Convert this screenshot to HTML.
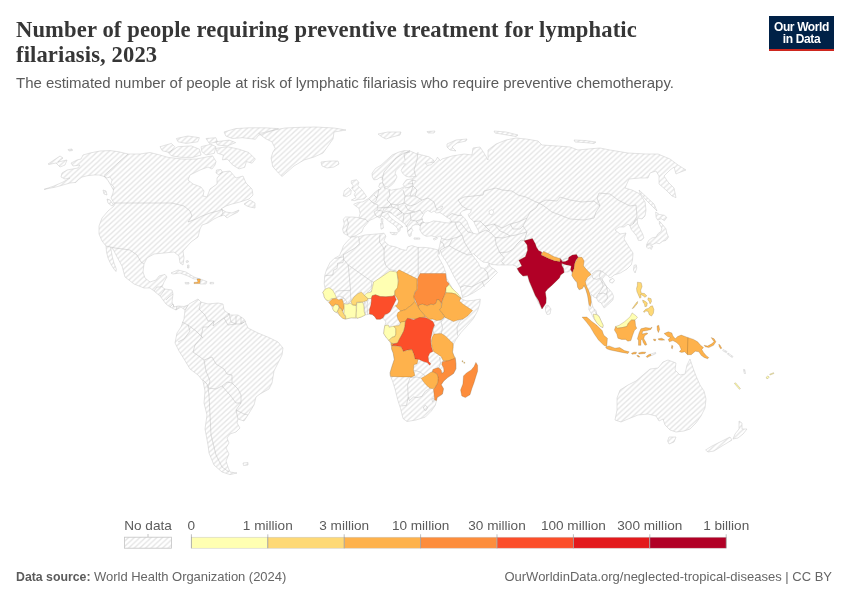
<!DOCTYPE html>
<html lang="en"><head><meta charset="utf-8"><title>Number of people requiring preventive treatment for lymphatic filariasis, 2023</title>
<style>
html,body{margin:0;padding:0;background:#fff}
body{width:850px;height:600px;position:relative;overflow:hidden;font-family:"Liberation Sans",sans-serif}
#title{position:absolute;left:16px;top:17px;margin:0;font-family:"Liberation Serif",serif;font-weight:700;font-size:22.6px;line-height:25.2px;color:#363636;letter-spacing:0.12px;white-space:nowrap}
#subtitle{position:absolute;left:16px;top:73.9px;margin:0;font-size:15px;line-height:18px;color:#5b5b5b;white-space:nowrap;letter-spacing:-0.03px}
#logo{position:absolute;left:769px;top:16px;width:65px;height:33.2px;background:#002147;border-bottom:2.7px solid #ce261e;color:#fff;text-align:center;font-weight:700;font-size:12px;line-height:12px;letter-spacing:-0.37px}
#logo span{display:block}
#logo span:first-child{padding-top:4.6px}
#src{position:absolute;left:16px;top:568.5px;font-size:13px;line-height:16px;color:#666;white-space:nowrap;letter-spacing:-0.04px}
#src b{font-weight:700;color:#5b5b5b;font-size:12.3px;letter-spacing:0}
#lic{position:absolute;right:18px;top:568.5px;font-size:13px;line-height:16px;color:#666;white-space:nowrap;letter-spacing:0px}
svg{position:absolute;left:0;top:0}
svg text{font-family:"Liberation Sans",sans-serif;font-size:13.6px;fill:#5b5b5b}
</style></head><body>
<h1 id="title">Number of people requiring preventive treatment for lymphatic<br>filariasis, 2023</h1>
<p id="subtitle">The estimated number of people at risk of lymphatic filariasis who require preventive chemotherapy.</p>
<div id="logo"><span>Our World</span><span>in Data</span></div>
<svg width="850" height="600" viewBox="0 0 850 600">
<defs>
<pattern id="hatch" patternUnits="userSpaceOnUse" width="5.66" height="5.25" x="0.6" y="0">
<path d="M-5.66,10.5 L11.32,-5.25" stroke="#e4e4e4" stroke-width="1.35"/>
<path d="M-11.32,10.5 L5.66,-5.25" stroke="#e4e4e4" stroke-width="1.35"/>
<path d="M0,10.5 L16.98,-5.25" stroke="#e4e4e4" stroke-width="1.35"/>
</pattern>
</defs>
<g id="map" stroke-linejoin="round">
<path d="M128.0,154.0 L118.0,151.6 L110.0,150.6 L100.0,151.0 L90.0,153.0 L83.0,155.0 L81.0,159.0 L77.0,160.0 L71.0,163.0 L73.0,166.0 L80.0,165.0 L78.0,168.0 L67.0,170.0 L62.0,173.0 L61.0,177.0 L65.0,179.0 L70.0,178.0 L63.0,182.0 L54.0,186.0 L44.0,189.4 L56.0,187.0 L70.0,183.0 L76.0,182.4 L78.0,180.0 L82.0,177.0 L88.0,175.6 L94.0,175.0 L99.0,175.0 L104.0,176.4 L107.0,178.0 L110.0,177.0 L112.0,180.0 L111.0,184.0 L114.0,187.0 L113.0,193.0 L111.0,198.0 L114.0,203.0 L114.0,206.0 L108.0,211.0 L102.0,218.0 L99.0,226.0 L99.0,234.0 L102.0,241.0 L106.0,246.0 L106.5,252.0 L108.0,258.0 L110.5,263.5 L113.5,268.5 L116.0,271.5 L116.3,269.0 L114.0,263.0 L112.3,257.0 L111.3,251.0 L110.5,247.5 L113.0,249.0 L116.5,256.0 L122.0,266.0 L125.0,277.0 L134.0,284.0 L144.0,288.0 L150.0,288.0 L154.0,291.0 L160.0,296.0 L166.0,304.0 L170.0,307.0 L176.0,310.0 L181.0,307.0 L185.0,310.0 L188.0,305.0 L184.0,306.5 L178.0,306.0 L174.0,307.0 L172.0,302.0 L173.0,294.0 L172.0,290.0 L165.0,289.0 L162.0,287.0 L164.0,282.0 L167.0,277.0 L165.0,274.4 L159.0,276.0 L156.0,280.0 L150.0,282.0 L145.0,278.0 L143.0,272.0 L144.0,264.0 L147.0,258.0 L154.0,254.0 L164.0,253.0 L174.0,252.0 L179.0,256.0 L180.0,263.0 L183.0,265.0 L184.0,258.0 L183.0,251.0 L191.0,242.0 L198.0,237.0 L200.0,229.0 L202.0,225.0 L208.0,223.0 L214.0,219.0 L218.0,217.0 L224.0,215.0 L227.0,218.0 L230.0,216.0 L238.0,212.0 L239.0,210.0 L232.0,213.0 L226.0,212.0 L221.0,209.0 L226.0,206.0 L232.0,204.0 L240.0,202.0 L249.0,199.0 L253.0,195.0 L252.0,189.0 L246.0,183.0 L243.0,176.0 L236.0,178.0 L230.0,171.0 L222.0,172.0 L217.0,178.0 L217.0,184.0 L210.0,189.0 L207.0,197.0 L203.0,196.0 L204.0,191.0 L201.0,187.0 L193.0,184.0 L188.0,180.0 L190.0,175.0 L200.0,170.0 L208.0,167.0 L212.0,169.0 L215.0,165.0 L216.0,161.5 L212.6,155.8 L204.4,157.4 L196.1,159.1 L183.0,159.1 L168.1,157.4 L159.9,155.0 L150.0,152.5 L140.0,154.0Z M48.0,164.0 L60.0,156.0 L63.0,158.0 L58.0,162.0 L67.0,160.0 L65.0,165.0 L60.0,167.0 L56.0,163.0 L49.0,164.4Z M68.0,149.5 L72.0,149.0 L72.5,150.5 L69.0,151.0Z M103.0,190.0 L106.0,191.0 L107.0,195.0 L104.0,194.0Z M107.0,199.0 L110.0,200.0 L113.5,205.0 L112.0,206.0 L108.0,203.0Z M244.0,204.0 L250.0,200.0 L255.0,203.0 L255.0,208.0 L250.0,207.0 L247.0,206.0Z M168.1,152.5 L178.0,146.7 L191.2,145.9 L199.4,149.2 L201.1,155.0 L192.8,157.4 L181.3,157.4 L171.4,155.8Z M206.0,138.5 L215.9,137.7 L217.5,141.8 L209.3,143.4Z M201.1,146.7 L211.0,144.2 L215.9,146.7 L214.3,153.3 L206.0,155.0 L201.9,151.7Z M160.0,146.7 L171.4,143.4 L174.7,146.7 L169.8,152.5 L162.4,150.8Z M176.4,138.5 L187.9,136.0 L199.4,137.7 L197.8,141.8 L186.2,143.4 L178.0,141.8Z M215.9,141.8 L229.1,140.1 L235.7,142.6 L227.4,145.9 L217.5,145.1Z M224.1,131.9 L235.7,128.6 L248.8,127.8 L265.3,127.8 L278.5,128.6 L268.6,131.9 L258.7,135.2 L255.4,139.3 L242.3,137.7 L232.4,138.5 L225.8,136.0Z M215.9,148.4 L227.4,146.7 L239.0,149.2 L248.8,152.5 L255.4,159.1 L252.1,163.2 L246.4,161.5 L244.7,167.3 L239.0,168.9 L232.4,164.8 L227.4,159.1 L222.5,159.9 L223.3,155.0 L217.5,153.3Z M216.5,170.0 L221.0,169.5 L222.5,172.5 L218.5,174.5 L216.0,173.0Z M258.7,133.5 L265.3,138.5 L271.9,141.8 L275.2,148.4 L272.7,152.5 L271.1,158.2 L272.7,166.5 L278.5,173.1 L282.0,176.5 L286.0,173.0 L294.0,166.0 L304.0,160.0 L314.0,157.0 L323.0,153.0 L328.0,146.0 L333.0,139.0 L334.0,132.0 L346.0,130.0 L334.0,128.0 L316.0,127.0 L300.0,127.3 L285.0,128.0 L272.0,130.5 L264.0,132.5Z M321.0,162.0 L330.0,161.0 L338.0,161.0 L339.0,164.0 L334.0,167.0 L327.0,168.0 L322.0,166.0Z M378.0,134.0 L388.0,132.0 L401.0,132.0 L400.0,135.0 L392.0,137.0 L386.0,139.0 L382.0,137.0Z M427.0,131.5 L435.0,131.0 L434.0,133.0 L428.0,133.0Z M447.0,144.0 L456.0,140.0 L467.0,139.0 L466.0,141.0 L457.0,143.0 L452.0,147.0 L456.0,151.0 L450.0,150.0 L447.0,147.0Z M494.0,131.0 L506.0,132.0 L518.0,135.0 L516.0,136.5 L504.0,134.5 L495.0,133.0Z M574.0,140.0 L585.0,140.5 L596.0,142.0 L594.0,143.5 L584.0,142.5 L575.0,142.0Z M171.0,273.0 L178.0,270.0 L186.0,272.0 L194.0,277.0 L200.0,279.0 L194.0,279.0 L188.0,276.0 L180.0,273.0 L173.0,274.0Z M200.4,279.0 L207.0,281.6 L206.0,284.0 L200.0,284.0Z M185.0,282.4 L189.0,282.6 L189.0,284.0 L185.5,284.0Z M210.0,282.4 L213.6,282.4 L213.6,283.8 L210.0,283.8Z M186.0,261.0 L188.0,260.5 L188.5,262.0 L186.5,262.5Z M187.5,265.0 L189.0,265.0 L189.0,268.0 L187.5,268.0Z M185.0,310.0 L189.0,304.0 L198.0,299.0 L201.0,302.0 L208.0,304.0 L218.0,303.0 L223.0,304.0 L224.0,310.0 L230.0,315.0 L238.0,315.0 L244.0,319.0 L248.0,328.0 L258.0,333.0 L270.0,338.0 L278.0,342.0 L283.0,348.0 L282.0,355.0 L278.0,363.0 L274.0,371.0 L272.0,383.0 L269.0,389.0 L260.0,394.0 L256.0,397.0 L254.0,405.0 L248.0,415.0 L244.0,421.0 L238.0,419.0 L237.0,423.0 L240.0,428.0 L236.0,432.0 L230.0,434.0 L227.0,438.0 L229.0,443.0 L226.0,448.0 L229.0,454.0 L226.0,461.0 L228.0,467.0 L230.0,472.0 L237.0,473.0 L230.0,474.6 L222.0,472.0 L214.0,465.0 L209.0,453.0 L208.0,445.0 L205.0,429.0 L207.0,415.0 L204.0,403.0 L205.0,391.0 L203.0,381.0 L198.0,375.0 L190.0,369.0 L184.0,359.0 L179.0,351.0 L175.0,343.0 L177.0,333.0 L181.0,327.0 L184.0,319.0Z M343.7,233.3 L347.8,235.6 L350.2,237.4 L356.0,235.6 L361.8,232.1 L363.6,227.5 L367.7,222.8 L369.4,220.5 L373.5,218.7 L377.6,216.4 L381.6,215.8 L385.1,218.1 L389.2,221.6 L394.5,225.1 L397.5,228.5 L398.3,232.0 L399.8,231.0 L400.5,227.5 L403.0,227.0 L400.3,224.6 L395.6,221.6 L391.0,218.1 L387.5,213.5 L389.8,212.3 L394.5,215.8 L400.3,220.5 L405.0,224.0 L407.3,227.5 L407.5,231.5 L408.0,233.5 L409.2,236.5 L411.0,236.0 L411.4,232.0 L412.8,230.5 L411.5,228.0 L412.4,225.7 L415.6,224.6 L418.8,224.6 L421.5,222.5 L420.4,225.7 L419.8,229.9 L422.5,234.2 L426.2,236.3 L431.5,235.8 L436.8,237.4 L440.5,235.8 L441.5,238.4 L440.5,241.6 L439.4,246.9 L438.4,250.1 L439.1,254.4 L440.3,250.3 L442.1,255.6 L446.2,261.5 L450.3,269.1 L453.8,276.2 L457.4,282.1 L460.3,287.4 L461.5,292.6 L462.6,297.4 L466.8,296.2 L473.8,292.6 L480.9,287.9 L487.9,282.1 L493.8,276.2 L497.4,272.6 L495.0,269.7 L490.3,266.8 L489.1,263.2 L487.4,266.8 L484.4,268.5 L480.3,267.4 L478.5,263.2 L475.0,258.5 L471.5,254.4 L473.8,253.8 L478.5,258.5 L483.2,262.1 L487.9,262.6 L491.5,264.4 L497.4,265.0 L504.4,265.0 L512.6,265.0 L516.0,266.0 L517.0,268.0 L519.0,272.0 L523.0,276.0 L528.0,276.0 L529.0,281.0 L532.0,288.0 L535.0,295.0 L538.0,302.0 L542.0,309.0 L546.0,303.0 L546.0,298.0 L545.0,292.0 L548.0,289.0 L551.0,286.0 L556.0,281.0 L559.0,278.0 L561.0,275.0 L564.0,272.0 L568.0,272.0 L571.0,270.0 L572.0,273.0 L572.0,275.0 L574.0,279.0 L577.0,283.0 L578.0,287.0 L579.0,290.0 L582.0,288.0 L584.0,285.0 L586.0,290.0 L588.0,296.0 L589.0,302.0 L589.0,306.5 L588.8,309.5 L591.3,313.5 L594.0,319.0 L597.0,323.0 L600.0,326.0 L603.0,327.6 L603.0,325.0 L601.0,321.0 L599.0,316.0 L597.0,314.5 L595.0,311.5 L594.0,309.0 L592.5,306.0 L591.5,302.0 L591.0,298.3 L591.3,294.5 L592.3,295.1 L593.4,296.7 L596.7,298.3 L598.3,301.6 L601.0,302.7 L602.6,305.4 L604.3,308.1 L606.4,305.9 L609.7,303.2 L612.9,300.0 L613.5,296.2 L611.8,292.4 L608.6,288.6 L604.8,284.8 L602.1,281.5 L602.6,278.3 L605.9,274.5 L607.5,275.6 L610.0,278.0 L612.4,276.7 L614.0,275.0 L620.5,272.9 L627.0,269.0 L631.3,264.7 L632.5,260.0 L633.0,253.0 L629.0,247.0 L624.0,239.0 L626.0,233.0 L620.0,234.0 L615.0,230.0 L619.0,227.0 L624.0,227.0 L628.0,224.0 L630.0,226.0 L631.4,229.7 L634.3,233.0 L636.8,236.3 L638.4,240.4 L641.3,240.4 L643.8,237.9 L642.9,234.7 L640.5,229.7 L637.6,223.9 L637.2,219.0 L638.0,218.0 L642.0,219.0 L645.0,216.0 L646.0,210.0 L645.0,202.0 L640.0,194.0 L632.0,190.0 L625.0,188.0 L629.0,179.0 L640.0,178.0 L648.0,178.0 L650.0,173.0 L656.0,171.0 L659.0,176.0 L659.0,184.0 L666.0,190.0 L672.0,196.0 L676.0,197.6 L674.0,188.0 L668.0,182.0 L664.0,176.0 L670.0,170.0 L674.0,167.0 L676.0,174.0 L678.0,173.0 L686.0,170.0 L678.0,165.0 L670.0,159.0 L658.0,154.0 L646.0,154.0 L628.0,153.0 L610.0,150.0 L600.0,148.0 L588.0,149.0 L578.0,150.0 L570.0,147.0 L558.0,146.0 L542.0,145.0 L538.0,141.0 L526.0,139.0 L516.0,138.0 L506.0,140.0 L496.0,144.0 L488.0,150.0 L488.0,160.0 L484.0,153.0 L480.0,147.0 L473.0,148.0 L472.0,155.0 L464.0,154.0 L452.0,156.0 L442.0,159.0 L440.3,160.5 L437.5,157.2 L436.0,160.0 L431.0,164.8 L427.1,165.2 L425.2,163.4 L428.0,163.0 L432.0,162.5 L434.2,162.4 L433.7,160.1 L429.0,156.8 L421.5,154.9 L415.8,153.5 L410.2,151.1 L404.5,150.6 L398.9,152.1 L392.3,154.9 L386.6,160.1 L381.0,165.2 L375.4,168.5 L372.1,173.2 L372.3,177.0 L373.9,179.8 L377.0,179.5 L380.0,177.5 L382.9,177.9 L382.4,182.2 L383.5,185.0 L385.2,186.4 L388.5,187.4 L392.3,184.5 L394.2,182.2 L397.0,177.0 L395.1,173.2 L396.1,170.4 L399.8,166.6 L402.6,163.8 L405.5,163.8 L402.6,167.6 L401.2,170.4 L402.6,173.2 L405.5,176.1 L409.2,177.0 L414.9,176.5 L412.1,178.9 L406.4,179.8 L404.5,182.2 L403.1,184.5 L404.5,186.4 L402.6,187.4 L399.8,188.8 L396.1,189.2 L391.4,190.2 L388.5,189.2 L386.3,188.4 L384.0,186.7 L382.8,182.6 L379.9,183.2 L378.7,186.7 L381.1,189.0 L378.7,189.6 L375.2,191.9 L372.3,194.8 L368.8,198.3 L363.0,201.8 L358.3,202.4 L353.7,204.2 L355.4,205.9 L358.9,208.2 L360.1,213.5 L358.9,217.6 L352.5,217.0 L345.5,217.0 L343.2,219.3 L344.3,224.0 L342.6,229.2Z M350.0,238.5 L351.8,236.8 L358.8,236.8 L364.7,235.0 L371.8,234.4 L378.8,233.8 L384.1,233.2 L385.9,236.2 L384.1,240.3 L386.0,243.0 L389.4,245.6 L395.3,246.8 L402.4,249.7 L406.5,250.3 L407.6,246.8 L411.8,245.6 L417.6,247.4 L424.1,247.4 L429.4,247.9 L434.6,249.0 L438.4,250.1 L437.9,255.6 L440.3,260.3 L443.2,265.6 L445.8,272.6 L446.8,278.5 L449.7,283.8 L452.1,287.9 L456.2,293.2 L460.3,297.4 L461.5,299.1 L466.8,300.9 L473.8,300.3 L480.3,299.1 L479.8,304.0 L477.5,311.0 L473.5,318.5 L467.5,325.5 L461.0,332.5 L456.0,339.5 L453.5,344.0 L453.0,347.0 L452.5,352.0 L454.0,356.0 L455.3,358.2 L456.0,364.0 L456.0,369.0 L453.5,373.5 L447.6,377.6 L443.5,381.2 L441.2,384.7 L443.5,388.8 L442.4,394.1 L437.1,397.6 L436.5,400.6 L435.3,405.3 L431.2,411.2 L425.3,417.1 L416.0,420.0 L407.0,421.5 L403.0,418.5 L400.6,408.8 L397.6,399.4 L395.3,390.0 L392.4,380.6 L390.0,375.3 L390.1,372.7 L392.2,365.8 L394.3,359.5 L393.2,353.1 L391.6,348.9 L391.0,344.0 L389.0,340.4 L386.4,337.8 L383.7,333.5 L384.2,329.3 L384.8,325.6 L386.0,322.0 L383.0,318.0 L380.2,319.2 L376.5,319.2 L374.6,316.4 L372.2,314.5 L369.4,314.1 L365.2,315.0 L361.4,316.9 L357.2,318.3 L351.1,317.8 L345.9,319.0 L342.6,318.3 L339.8,315.5 L336.5,312.6 L334.1,311.2 L332.7,308.9 L331.3,305.6 L328.9,302.3 L326.1,299.9 L324.2,297.1 L323.8,294.8 L322.8,292.4 L325.2,289.1 L324.2,283.5 L324.7,275.6 L326.5,269.7 L330.0,262.6 L334.1,258.5 L339.4,255.6 L341.8,250.3 L343.5,245.6 L347.1,241.5Z M351.3,180.8 L356.6,179.7 L358.9,182.6 L357.7,185.5 L361.8,189.6 L364.7,193.7 L366.5,196.6 L364.2,198.9 L358.3,199.5 L354.2,200.7 L351.3,200.1 L356.0,197.7 L354.2,194.8 L355.4,192.5 L352.5,189.0 L353.1,185.5 L351.3,183.2Z M343.2,196.0 L344.3,190.7 L348.4,187.8 L351.3,190.2 L350.7,194.2 L346.7,196.6Z M380.5,223.4 L382.8,222.8 L383.4,228.1 L381.1,229.2Z M381.1,218.7 L382.8,218.7 L382.8,222.2 L381.4,222.2Z M389.8,232.3 L395.6,232.7 L397.5,232.6 L396.2,234.8 L392.1,234.5Z M414.0,237.9 L419.8,238.0 L419.8,239.2 L414.0,239.1Z M433.1,238.9 L436.8,237.6 L437.3,238.6 L434.6,240.0Z M639.0,190.0 L654.0,204.0 L657.0,211.0 L654.0,208.0 L646.0,200.0 L640.0,193.0Z M655.7,212.0 L659.4,214.5 L664.4,215.3 L666.8,217.4 L664.4,220.7 L661.1,218.6 L657.8,220.2 L656.1,217.4Z M659.4,221.1 L662.7,224.8 L666.0,228.9 L666.8,233.0 L668.5,237.1 L666.0,240.4 L662.7,241.2 L659.4,243.7 L656.1,242.9 L652.8,244.5 L649.5,243.7 L646.7,244.5 L648.7,240.4 L652.0,237.9 L656.1,237.1 L657.8,233.8 L661.1,231.4 L661.9,228.1 L659.4,223.9Z M646.7,244.8 L649.5,244.8 L652.8,246.2 L651.2,249.5 L649.5,247.8 L647.9,248.5 L646.5,247.0Z M634.0,265.3 L636.2,264.8 L636.8,268.0 L635.1,272.9 L633.5,270.2Z M609.7,279.9 L612.9,278.3 L614.5,280.5 L612.4,283.2 L609.7,282.1Z M545.5,306.0 L548.0,305.0 L551.0,309.0 L550.0,314.0 L547.0,314.5 L545.5,311.0Z M615.0,420.0 L617.0,410.0 L617.0,398.0 L620.0,390.0 L628.0,385.0 L636.0,381.0 L643.0,375.0 L650.0,369.0 L658.0,368.0 L663.0,362.0 L668.0,360.0 L676.0,363.0 L675.0,370.0 L680.0,375.0 L685.0,374.0 L687.0,365.0 L690.0,359.0 L693.0,368.0 L696.0,376.0 L700.0,385.0 L704.0,391.0 L706.0,399.0 L705.0,408.0 L701.0,416.0 L696.0,423.0 L690.0,429.0 L684.0,431.0 L676.0,432.0 L670.0,430.0 L665.0,425.0 L663.0,419.0 L659.0,421.0 L656.0,416.0 L648.0,414.0 L638.0,415.0 L628.0,419.0 L621.0,422.0Z M669.0,437.0 L676.0,437.0 L674.0,442.0 L669.0,444.0 L667.6,441.0Z M739.0,421.0 L742.0,423.0 L742.0,429.0 L747.0,429.0 L743.0,434.0 L738.0,438.0 L733.0,439.0 L735.0,434.0 L739.0,429.0Z M730.0,437.0 L732.0,440.0 L722.0,446.0 L714.0,451.0 L708.0,452.0 L705.6,450.0 L712.0,446.0 L722.0,441.0Z M650.3,354.3 L655.6,352.4 L655.8,353.6 L651.0,355.8Z M723.0,349.5 L727.0,351.5 L726.5,352.8 L722.8,350.8Z M728.0,353.0 L733.0,356.5 L732.3,357.6 L727.5,354.2Z M743.5,369.4 L744.8,369.6 L745.5,373.5 L744.3,373.5Z M243.0,463.0 L248.0,462.5 L248.0,465.0 L243.5,465.5Z" fill="url(#hatch)" stroke="#c9c9c9" stroke-width="0.5"/>
<path d="M421.9,217.8 L424.6,212.5 L427.8,210.4 L431.5,212.5 L434.1,210.9 L436.2,213.0 L439.9,212.5 L443.1,214.6 L446.8,217.2 L450.5,219.4 L451.6,222.0 L449.5,223.1 L444.2,222.5 L438.9,221.5 L433.6,220.9 L429.4,222.5 L425.6,223.1 L422.5,221.5Z M436.2,209.8 L438.9,207.7 L442.6,206.1 L442.1,208.2 L439.4,209.8Z M460.1,213.0 L462.7,210.9 L467.5,209.3 L471.2,209.8 L470.7,212.5 L468.0,214.6 L469.6,217.8 L473.8,221.5 L475.4,225.2 L478.1,229.9 L479.1,233.1 L477.0,234.2 L472.8,233.1 L470.7,229.9 L468.5,225.7 L467.0,221.5 L464.3,217.8 L461.6,215.6Z M489.0,211.0 L492.0,209.5 L494.0,212.0 L492.0,215.0 L489.5,214.0Z" fill="#fff" stroke="#c9c9c9" stroke-width="0.5"/>
<path d="M128.0,154.0 L104.0,175.5 M104.0,176.0 L108.0,180.5 L111.0,185.5 L113.5,190.0 M114.0,203.0 L150.0,203.0 L172.0,203.0 L184.0,206.0 L190.0,211.0 L192.0,216.0 L188.0,222.0 L196.0,219.0 L202.0,216.0 L210.0,213.0 L218.0,211.0 L222.0,209.0 L223.0,213.0 L221.0,216.0 M106.0,246.0 L115.0,248.0 L123.0,249.0 L130.0,250.0 L137.0,255.0 L141.0,262.0 L144.0,264.0 M154.0,291.0 L157.0,287.0 L160.0,287.0 L162.0,286.0 M160.0,296.0 L163.0,292.0 L165.0,289.0 M166.0,300.0 L169.0,297.0 L173.0,294.0 M170.0,307.0 L173.0,304.0 L174.0,307.0 M176.0,310.0 L177.0,306.0 M201.0,302.0 L199.0,309.0 L205.0,315.0 L208.0,321.0 L214.0,321.0 M214.0,321.0 L213.0,326.0 L218.0,322.0 L224.0,318.0 L228.0,316.0 L229.0,313.0 M229.0,313.0 L231.0,322.0 L236.0,324.0 M236.0,316.0 L236.0,324.0 M241.0,317.0 L241.0,324.0 L244.0,322.0 M224.0,318.0 L228.0,325.0 L236.0,324.0 L241.0,324.0 L246.0,321.0 M214.0,321.0 L208.0,327.0 L203.0,327.0 L201.0,338.0 L195.0,345.0 L193.0,352.0 L200.0,357.0 L204.0,360.0 L212.0,357.0 L216.0,364.0 L224.0,369.0 L227.0,374.0 L232.0,375.0 L232.0,383.0 L238.0,389.0 L241.0,395.0 L241.0,403.0 L236.0,410.0 L244.0,414.0 L248.0,415.0 M182.0,322.0 L188.0,325.0 L196.0,331.0 L203.0,338.0 M188.0,325.0 L190.0,331.0 L184.0,339.0 L178.0,342.0 M204.0,360.0 L206.0,371.0 L210.0,381.0 L208.0,388.0 L216.0,389.0 L222.0,386.0 L227.0,382.0 L232.0,383.0 M222.0,386.0 L230.0,395.0 L236.0,403.0 L241.0,403.0 M203.0,380.0 L207.0,384.0 L208.0,388.0 M208.0,388.0 L209.0,395.0 L210.0,415.0 L211.0,435.0 L216.0,455.0 L222.0,467.0 L229.0,472.0 M236.0,410.0 L238.0,419.0 M343.5,259.1 L348.2,265.0 L371.8,281.5 L373.6,282.0 M348.2,265.0 L350.6,290.3 L337.6,290.9 L335.3,292.0 M358.8,236.8 L359.4,243.8 L355.3,247.9 L350.0,250.9 L345.3,253.8 L343.5,254.4 L343.5,259.1 M335.3,258.5 L343.5,256.8 M343.0,262.6 L337.6,263.2 L337.1,268.5 L333.5,270.3 L332.9,275.0 L325.3,275.6 M343.5,259.1 L343.0,262.6 M380.0,234.4 L379.4,242.0 L382.9,246.8 L384.1,249.7 L385.9,245.6 M384.1,249.7 L384.1,260.3 L385.9,265.6 L390.0,269.7 L396.5,270.9 M418.2,247.4 L418.2,279.0 M371.8,281.5 L371.2,289.1 L367.0,292.5 M350.2,290.5 L351.1,301.4 M336.5,297.6 L340.0,296.0 L344.0,298.0 L342.1,299.0 M344.0,298.0 L347.0,302.0 L344.0,303.7 M351.1,301.4 L347.3,304.2 M365.2,315.0 L364.6,308.0 L365.0,303.0 L364.0,300.5 M367.6,314.6 L367.0,305.0 L368.0,300.0 M368.0,298.5 L371.3,298.5 M441.4,333.5 L442.5,327.0 L441.0,322.0 L444.5,317.0 M457.5,335.5 L457.0,327.0 L460.0,321.0 L463.1,319.0 M431.9,337.8 L434.5,340.0 L432.5,344.0 L431.4,346.0 M434.0,334.1 L433.0,330.0 L434.5,325.1 M460.9,298.4 L462.5,298.0 M411.8,376.9 L410.0,377.6 L407.6,385.0 L408.2,397.0 L406.5,405.3 L401.8,405.9 M410.0,377.6 L417.0,377.0 L421.2,378.2 M430.0,388.2 L425.3,391.2 L421.8,396.5 L417.0,397.6 L413.5,397.0 L409.4,400.6 L408.2,397.0 M439.5,357.0 L440.5,363.0 L439.0,368.0 L441.8,373.5 M423.5,407.0 L425.5,405.3 L427.6,407.5 L426.0,410.6 L424.0,409.5 L423.5,407.0 M431.8,399.0 L433.5,398.2 L434.1,400.5 L432.5,401.8 L431.8,399.0 M413.4,370.1 L420.0,372.0 L425.3,375.9 M441.5,238.4 L447.0,240.0 L452.6,238.5 L458.0,237.0 L462.1,235.0 M462.1,235.0 L464.4,242.1 L467.9,247.9 L471.5,253.8 M440.3,250.3 L444.4,247.9 L449.1,245.6 L453.8,248.5 L462.1,252.6 L467.9,255.0 L471.5,254.4 M449.1,245.6 L452.6,238.5 M440.5,241.6 L443.0,243.0 L444.4,247.9 M460.3,287.4 L464.4,285.6 L471.5,286.8 L478.5,283.2 L482.1,281.5 L484.4,286.8 M482.1,281.5 L488.5,278.5 L487.4,272.6 L484.4,269.1 M504.4,265.0 L501.5,261.5 L504.4,257.9 L499.7,252.6 L496.2,244.4 L495.0,237.4 M499.7,252.6 L508.0,252.0 L513.0,249.0 L517.0,244.0 L521.0,240.0 L524.1,240.8 M463.0,226.0 L468.0,232.0 L472.8,233.1 M479.1,233.1 L486.0,230.0 L491.0,233.0 L495.0,237.4 M495.0,237.4 L503.0,238.0 L510.0,236.0 L516.0,235.0 L523.0,233.0 L527.0,232.0 M446.8,217.2 L452.0,213.5 L458.0,215.5 L461.6,215.6 M449.5,222.0 L455.0,222.0 L457.0,228.0 L462.1,235.0 M455.0,222.0 L460.0,222.0 L463.0,226.0 M467.5,209.3 L462.0,206.0 L458.0,200.0 L464.0,197.0 L483.0,195.0 L484.0,191.0 L496.0,188.0 L502.0,190.0 L512.0,191.0 L518.0,195.0 L526.0,197.0 L536.0,202.0 L539.0,203.0 M539.0,203.0 L546.0,200.0 L557.0,201.0 L560.0,197.0 L570.0,200.0 L582.0,202.0 L594.0,201.0 L600.0,206.0 L596.0,212.0 L594.0,218.0 L584.0,220.0 L570.0,219.0 L560.0,215.0 L552.0,212.0 L544.0,206.0 L539.0,203.0 M600.0,206.0 L597.0,198.0 L599.0,193.0 L610.0,194.0 L618.0,200.0 L630.0,206.0 L636.0,205.0 L637.0,216.0 L633.0,224.0 L630.0,226.0 M637.2,219.0 L633.0,224.0 M473.8,221.5 L480.0,221.0 L485.0,226.0 L494.0,224.0 L502.0,228.0 L510.0,224.0 L518.0,222.0 L527.0,218.0 L530.0,212.0 L536.0,208.0 L539.0,203.0 M485.0,226.0 L490.0,231.0 M494.0,224.0 L500.0,231.0 L505.0,233.0 L510.0,236.0 M510.0,224.0 L513.0,229.0 L520.0,229.0 L523.0,226.0 M527.0,218.0 L523.0,226.0 L527.0,232.0 L524.1,240.8 M592.0,274.0 L595.6,271.0 L600.5,270.7 L603.7,272.3 L605.9,274.5 M591.8,275.0 L592.9,278.3 L596.7,279.4 L599.4,278.3 L602.0,282.0 L603.2,286.0 L601.0,290.0 L598.3,294.0 M600.5,270.7 L599.4,276.7 L603.2,281.0 L606.4,286.4 L607.5,290.8 L606.4,294.0 M596.7,298.3 L597.2,295.0 L598.3,294.0 L603.2,293.0 L607.0,294.5 L607.5,298.3 L604.3,302.7 M594.0,309.0 L596.0,310.5 L596.8,314.7 M561.8,262.4 L563.0,259.5 L566.0,258.5 L568.8,259.0 M562.4,262.6 L564.1,272.6 M571.0,270.0 L570.6,269.6 M347.0,218.5 L348.5,224.0 L346.5,230.0 L347.5,235.0 M359.0,218.0 L366.0,219.5 L368.0,222.0 M369.0,199.0 L373.0,203.0 L378.0,205.0 L377.0,210.0 L374.0,212.0 L376.0,216.0 L380.0,218.0 M374.0,195.0 L377.0,198.0 L376.0,201.0 L373.0,203.0 M379.0,189.0 L378.0,194.0 L377.0,198.0 M384.0,187.0 L385.0,189.0 M389.0,190.0 L390.0,196.0 L387.0,200.0 L391.0,204.0 L388.0,207.0 L378.0,208.0 M403.0,190.0 L405.0,196.0 L404.0,203.0 L398.0,205.0 L391.0,204.0 M405.0,188.0 L410.0,187.0 L413.0,186.0 M408.0,184.0 L413.0,183.5 M412.0,180.0 L416.0,181.0 M418.0,152.0 L417.0,160.0 L414.0,170.0 L416.0,177.0 M412.0,180.0 L413.0,186.0 L417.0,190.0 L415.0,196.0 L422.0,200.0 L428.0,198.0 L434.0,202.0 L436.0,208.0 L437.0,209.5 M404.0,203.0 L410.0,206.0 L416.0,204.0 L422.0,200.0 M410.0,196.0 L415.0,196.0 M405.0,196.0 L410.0,196.0 L413.0,186.0 M405.0,205.0 L408.0,210.0 L415.0,212.0 L420.0,210.0 L423.0,214.0 M380.0,218.0 L382.0,213.0 L388.0,211.0 L392.0,213.0 M382.0,213.0 L384.0,208.0 L392.0,207.0 L398.0,209.0 L402.0,213.0 L397.0,215.5 M377.0,210.0 L382.0,211.0 M398.0,205.0 L398.0,209.0 M392.0,207.0 L391.0,204.0 M398.0,209.0 L404.0,214.0 L410.0,213.0 L415.0,212.0 M404.0,214.0 L403.0,222.5 M410.0,213.0 L411.0,220.0 L416.0,221.0 L420.0,226.0 M407.5,231.5 L411.0,228.0 M411.0,220.0 L407.0,225.0 L406.0,227.0 M416.0,221.0 L423.0,219.0 M382.0,180.0 L384.0,172.0 L390.0,165.0 L396.0,158.0 L404.0,153.0 L410.0,152.0 M405.0,160.0 L404.0,154.0 M404.0,154.0 L410.0,150.4 M420.0,226.0 L421.0,223.5 L424.0,222.0 M353.0,187.0 L351.0,188.5" fill="none" stroke="#bdbdbd" stroke-width="0.5"/>
<g stroke="#6b4a1e" stroke-opacity="0.55" stroke-width="0.4">
<path d="M197.0,279.0 L200.4,279.0 L199.6,283.6 L194.0,283.6 L194.0,282.4 L198.0,282.0Z" fill="#feb24c"/>
<path d="M322.8,292.4 L325.2,289.1 L328.9,287.7 L332.2,289.6 L334.6,293.4 L336.5,297.6 L334.1,298.5 L331.3,298.5 L328.9,300.9 L326.1,299.9 L324.2,297.1 L323.8,294.8Z" fill="#ffffb2"/>
<path d="M328.9,302.3 L332.2,299.0 L336.5,298.5 L338.8,299.9 L342.1,299.0 L343.5,303.2 L344.0,307.9 L342.6,311.2 L341.2,308.4 L339.3,307.5 L338.4,305.1 L335.5,304.2 L333.2,306.5 L331.3,305.6Z" fill="#feb24c"/>
<path d="M333.2,306.5 L335.5,304.4 L338.4,305.3 L338.8,307.9 L337.4,311.2 L336.5,312.6 L334.1,311.2 L332.7,308.9Z" fill="#ffffb2"/>
<path d="M337.4,311.7 L339.3,307.9 L341.2,308.7 L342.6,311.7 L344.0,314.5 L345.4,316.4 L345.4,319.2 L342.6,318.3 L339.8,315.5Z" fill="#fed976"/>
<path d="M344.0,303.7 L347.3,304.2 L350.1,303.2 L352.9,305.1 L356.2,305.6 L356.2,310.8 L355.8,316.4 L356.2,317.8 L351.1,317.8 L345.9,319.0 L345.6,315.9 L344.0,313.6 L344.3,308.4Z" fill="#ffffb2"/>
<path d="M356.7,302.8 L362.8,302.3 L363.8,306.1 L364.2,311.7 L365.2,315.0 L361.4,316.9 L357.2,318.3 L356.2,316.4 L356.5,310.8Z" fill="#ffffb2"/>
<path d="M351.1,301.4 L353.9,297.1 L357.6,293.8 L361.4,291.9 L364.2,295.2 L368.0,298.5 L367.1,300.4 L363.3,301.8 L356.7,302.3 L356.2,305.1 L352.9,304.9 L351.5,303.2Z" fill="#fed976"/>
<path d="M364.2,295.2 L367.0,293.0 L371.3,291.9 L372.7,286.3 L373.6,282.0 L380.2,277.8 L390.0,271.0 L397.0,272.0 L398.1,283.0 L398.1,287.2 L395.3,290.5 L394.4,295.2 L392.5,296.2 L385.9,296.8 L380.2,296.5 L375.5,294.8 L372.2,295.7 L371.3,298.5 L368.0,298.5Z" fill="#ffffb2"/>
<path d="M371.3,298.5 L372.2,295.7 L375.5,294.8 L380.2,296.5 L385.9,296.8 L392.5,296.2 L394.4,295.2 L396.2,299.5 L394.4,303.2 L392.5,307.0 L390.1,311.7 L387.8,313.6 L384.9,314.5 L383.1,317.8 L380.2,319.2 L376.5,319.2 L374.6,316.4 L372.2,314.5 L369.4,314.1 L369.4,309.8 L370.8,305.1 L371.3,301.4Z" fill="#fc4e2a"/>
<path d="M396.9,271.9 L399.0,269.8 L417.0,278.8 L417.0,289.9 L414.9,291.5 L413.8,296.8 L414.9,301.5 L412.2,304.7 L409.1,306.8 L405.9,309.5 L400.6,311.1 L397.9,308.4 L395.3,305.8 L397.4,304.7 L398.5,301.0 L396.9,297.8 L394.8,295.2 L394.8,290.9 L397.4,287.8 L398.5,280.9Z" fill="#feb24c"/>
<path d="M417.5,278.8 L420.2,273.5 L445.6,273.5 L446.6,280.9 L449.3,284.1 L446.1,287.8 L445.6,292.5 L442.9,298.9 L441.4,303.6 L439.2,299.9 L437.1,299.4 L436.1,303.1 L433.9,304.7 L430.8,304.2 L427.1,305.8 L422.8,304.2 L419.6,304.7 L418.1,306.8 L415.9,301.5 L413.8,296.8 L415.4,291.5 L417.3,289.9Z" fill="#fd8d3c"/>
<path d="M446.1,287.8 L449.3,284.6 L452.5,288.8 L457.8,293.6 L460.9,297.8 L459.4,297.3 L455.6,294.1 L451.9,293.1 L447.7,293.1 L445.8,292.7Z" fill="#ffffb2"/>
<path d="M445.8,292.7 L451.9,293.1 L455.6,294.1 L459.4,297.3 L460.9,298.4 L459.4,301.0 L463.1,304.2 L472.6,310.5 L467.8,315.8 L463.1,319.0 L457.8,320.1 L453.5,321.6 L449.3,319.5 L445.1,317.4 L441.9,312.6 L439.2,310.0 L441.4,307.4 L441.9,303.6 L442.9,298.9Z" fill="#feb24c"/>
<path d="M418.1,306.8 L419.6,304.7 L422.8,304.2 L427.1,305.8 L430.8,304.2 L433.9,304.7 L436.1,303.1 L437.1,299.4 L439.2,299.9 L441.4,303.6 L441.4,307.4 L439.2,310.0 L441.9,312.6 L444.5,316.9 L440.8,320.1 L436.6,320.6 L432.4,319.0 L429.2,319.5 L426.0,316.9 L422.3,312.6 L419.6,309.5Z" fill="#feb24c"/>
<path d="M400.6,311.1 L405.9,309.5 L409.1,306.8 L412.2,304.7 L414.9,301.5 L418.1,306.8 L419.6,309.5 L422.3,312.6 L425.5,316.9 L421.8,317.4 L418.6,318.5 L415.4,319.0 L411.2,318.5 L407.5,318.5 L405.9,321.1 L403.2,322.2 L400.1,322.7 L397.9,319.0 L396.9,315.8 L397.9,312.6Z" fill="#feb24c"/>
<path d="M384.8,325.6 L388.5,325.1 L389.0,327.2 L393.8,326.1 L395.9,328.8 L395.9,334.1 L394.8,336.7 L392.2,337.2 L389.0,340.4 L386.4,337.8 L383.7,333.5 L384.2,329.3Z" fill="#ffffb2"/>
<path d="M393.8,326.1 L399.1,325.6 L401.2,321.9 L405.4,321.4 L404.9,326.6 L403.8,330.9 L401.7,335.1 L399.6,338.8 L397.5,343.1 L393.8,343.6 L391.1,343.1 L389.0,340.4 L392.2,337.2 L394.8,336.7 L395.9,334.1 L395.9,328.8Z" fill="#fed976"/>
<path d="M405.4,321.4 L407.5,318.2 L413.9,319.8 L419.2,317.6 L425.5,317.6 L429.8,319.8 L432.9,321.4 L434.5,325.1 L432.9,328.8 L431.9,333.5 L430.8,338.3 L430.8,342.5 L431.4,346.8 L432.9,351.5 L429.8,353.1 L428.2,356.8 L428.7,361.6 L430.8,363.7 L429.8,365.3 L427.1,362.6 L423.4,361.6 L419.2,359.5 L414.9,358.9 L413.9,354.2 L411.8,349.4 L407.5,349.9 L403.3,351.5 L401.2,346.8 L395.9,345.7 L391.6,345.7 L392.7,344.1 L397.5,343.1 L399.6,338.8 L401.7,335.1 L403.8,330.9 L404.9,326.6Z" fill="#fc4e2a"/>
<path d="M391.0,343.2 L393.0,343.6 L392.5,345.4 L391.0,345.2Z" fill="#feb24c"/>
<path d="M391.6,346.2 L395.9,345.9 L401.2,347.0 L403.3,351.5 L407.5,350.2 L411.8,349.6 L413.9,354.2 L414.9,358.9 L418.1,359.5 L417.1,363.7 L413.9,364.8 L413.4,370.1 L414.9,375.4 L411.8,376.9 L401.2,376.9 L390.6,376.4 L390.1,372.7 L392.2,365.8 L394.3,359.5 L393.2,353.1 L391.6,348.9Z" fill="#feb24c"/>
<path d="M434.0,334.1 L441.4,333.5 L445.6,336.2 L449.9,340.4 L453.1,343.6 L453.1,347.8 L452.5,352.1 L454.1,356.3 L455.2,357.9 L452.0,360.0 L446.7,361.1 L443.0,360.5 L441.4,356.8 L437.7,354.2 L433.5,351.5 L431.9,346.8 L431.4,342.5 L431.9,337.8Z" fill="#feb24c"/>
<path d="M442.4,361.8 L448.8,360.6 L455.3,358.2 L455.9,363.5 L455.9,368.8 L453.5,373.5 L447.6,377.6 L443.5,381.2 L441.2,384.7 L443.5,388.8 L442.4,394.1 L437.1,397.6 L436.5,400.6 L434.7,400.0 L434.1,394.7 L433.5,389.4 L435.3,387.1 L437.6,382.9 L438.2,378.2 L437.1,374.1 L432.4,371.8 L432.9,369.4 L438.2,367.6 L441.2,370.0 L441.8,373.5 L444.1,371.8 L443.5,367.6 L441.8,364.7Z" fill="#fd8d3c"/>
<path d="M421.2,378.2 L425.3,375.9 L430.6,372.4 L432.9,371.8 L437.1,374.1 L438.2,378.2 L437.6,382.9 L435.3,387.1 L433.5,388.8 L430.0,388.2 L426.5,385.3 L423.5,381.8Z" fill="#feb24c"/>
<path d="M475.9,362.4 L477.6,365.3 L477.6,371.2 L475.9,376.5 L474.1,382.4 L471.8,388.8 L470.0,394.7 L465.3,397.6 L461.8,395.9 L460.6,390.0 L462.9,384.1 L463.5,375.9 L466.5,372.9 L471.2,370.0 L474.1,366.5Z" fill="#fd8d3c"/>
<path d="M462.0,360.8 L463.0,360.8 L463.0,361.8 L462.0,361.8Z" fill="#fed976"/>
<path d="M463.8,362.3 L464.8,362.3 L464.8,363.2 L463.8,363.2Z" fill="#fed976"/>
<path d="M524.1,240.8 L532.4,238.5 L535.3,243.8 L536.5,247.3 L538.8,250.8 L541.8,252.0 L541.2,254.9 L548.8,258.5 L554.7,260.8 L560.0,261.4 L560.6,258.5 L562.4,261.8 L565.3,261.5 L568.2,260.0 L568.8,257.3 L572.4,254.9 L576.5,254.4 L578.2,257.3 L575.9,260.2 L574.7,263.8 L574.1,268.5 L572.4,272.6 L570.6,269.6 L571.2,266.1 L568.8,265.2 L566.5,264.9 L563.5,264.0 L561.8,263.3 L561.8,265.5 L563.5,268.5 L564.1,272.6 L560.6,274.9 L559.4,277.9 L555.9,281.4 L551.2,286.1 L547.6,289.1 L545.3,292.0 L546.2,297.9 L546.0,303.0 L542.0,309.0 L538.2,300.0 L535.3,295.5 L532.4,288.5 L529.4,281.4 L527.6,275.5 L522.9,276.1 L519.4,272.6 L517.1,268.5 L521.8,266.1 L518.8,260.2 L525.3,256.7 L527.6,250.2 L527.1,244.9Z" fill="#b10026"/>
<path d="M541.2,254.4 L543.5,251.4 L548.8,253.8 L554.1,256.7 L560.0,258.5 L560.0,261.4 L554.7,260.8 L548.8,258.5 L542.4,255.3Z" fill="#feb24c"/>
<path d="M576.5,260.2 L578.2,257.3 L581.8,257.3 L584.1,260.8 L583.5,266.1 L586.5,269.6 L591.2,274.4 L587.6,277.3 L585.3,281.4 L586.5,286.1 L588.8,290.8 L590.6,296.7 L591.2,302.0 L590.3,306.5 L589.0,304.5 L587.6,295.5 L585.9,289.6 L584.1,285.5 L582.4,288.5 L579.4,289.6 L577.6,287.3 L577.1,282.6 L574.1,279.1 L571.8,275.5 L572.4,272.6 L574.1,268.5 L574.7,263.8Z" fill="#feb24c"/>
<path d="M582.1,317.1 L586.8,317.1 L591.5,321.2 L596.8,325.3 L602.1,330.6 L603.8,335.3 L607.4,338.2 L606.8,346.5 L603.8,345.3 L598.5,340.0 L594.4,334.1 L590.3,327.1 L586.2,321.8Z" fill="#feb24c"/>
<path d="M605.6,347.1 L609.1,345.9 L615.0,348.2 L619.7,347.6 L624.4,350.6 L629.1,351.8 L627.9,353.5 L622.1,352.4 L616.2,351.2 L610.3,350.0 L606.8,348.8Z" fill="#feb24c"/>
<path d="M631.5,353.3 L634.0,352.2 L636.5,352.2 L636.0,353.8 L632.0,354.2Z" fill="#feb24c"/>
<path d="M638.5,352.9 L642.0,352.0 L645.8,352.2 L645.0,353.4 L639.0,354.0Z" fill="#feb24c"/>
<path d="M636.8,355.3 L638.5,355.5 L639.9,357.1 L638.0,357.0Z" fill="#feb24c"/>
<path d="M646.2,356.5 L648.5,354.8 L650.5,354.0 L651.0,355.6 L647.0,357.5Z" fill="#feb24c"/>
<path d="M593.2,314.1 L596.8,314.7 L599.1,316.5 L601.5,321.8 L603.2,325.3 L602.6,327.6 L599.7,325.9 L596.8,322.9 L594.4,318.8Z" fill="#ffffb2"/>
<path d="M615.6,326.5 L619.1,325.3 L624.4,321.8 L627.9,318.8 L630.3,316.5 L632.1,312.9 L636.2,315.9 L637.4,317.6 L635.0,320.0 L631.5,320.0 L628.5,322.9 L626.8,326.5 L622.1,327.6 L617.4,328.2Z" fill="#ffffb2"/>
<path d="M615.6,326.5 L617.4,328.2 L622.1,327.6 L626.8,326.5 L628.5,322.9 L631.5,320.0 L635.0,320.2 L635.6,325.9 L636.8,328.2 L634.4,330.6 L632.6,335.3 L630.9,340.6 L627.9,341.2 L625.6,339.4 L621.5,339.4 L617.9,338.2 L616.8,334.1 L614.4,330.0Z" fill="#feb24c"/>
<path d="M637.4,338.8 L639.1,332.9 L640.9,328.8 L645.6,327.6 L650.3,328.2 L652.1,327.1 L650.9,329.4 L646.8,330.6 L642.6,331.2 L642.1,334.1 L646.8,332.9 L647.9,333.5 L644.4,335.9 L643.8,338.8 L645.6,341.8 L646.8,344.7 L645.0,345.3 L643.2,342.4 L642.1,338.8 L640.9,340.6 L640.9,345.3 L638.5,345.3 L638.5,340.6Z" fill="#feb24c"/>
<path d="M657.1,325.9 L658.8,325.3 L659.6,329.4 L658.4,332.6 L657.3,330.0Z" fill="#feb24c"/>
<path d="M658.2,338.8 L661.8,338.2 L664.7,340.0 L661.8,340.2 L658.8,339.9Z" fill="#feb24c"/>
<path d="M653.5,339.1 L655.9,339.4 L655.3,340.9 L653.8,340.4Z" fill="#feb24c"/>
<path d="M671.8,345.3 L672.9,345.9 L672.4,348.8 L671.4,348.2Z" fill="#feb24c"/>
<path d="M664.1,333.5 L668.2,331.8 L671.8,332.9 L672.9,335.9 L675.3,338.8 L677.6,336.5 L681.2,335.1 L687.6,337.4 L693.5,339.4 L697.6,341.8 L700.6,345.3 L703.5,347.6 L701.8,349.4 L703.5,352.4 L706.5,355.9 L708.8,357.6 L707.6,358.8 L704.1,357.4 L701.2,355.3 L698.8,351.8 L695.3,351.2 L691.2,354.7 L687.6,354.7 L684.7,351.8 L681.8,352.4 L679.4,351.8 L681.2,349.4 L679.4,345.3 L676.5,342.4 L672.9,340.6 L669.4,341.8 L668.2,339.4 L670.6,337.6 L667.6,336.5Z" fill="#feb24c"/>
<path d="M704.1,345.3 L707.6,346.1 L711.2,344.1 L714.1,341.8 L711.2,337.6 L714.1,338.8 L715.9,341.8 L713.5,345.3 L708.8,347.6 L705.3,346.8Z" fill="#feb24c"/>
<path d="M718.8,344.1 L720.0,345.3 L721.8,348.2 L720.6,348.8 L719.2,346.5Z" fill="#feb24c"/>
<path d="M637.4,282.2 L641.2,282.7 L642.1,286.5 L640.7,290.2 L641.2,293.1 L644.5,293.5 L646.8,295.9 L644.9,297.3 L642.6,295.4 L640.2,294.5 L641.2,297.3 L639.8,298.2 L638.4,294.9 L636.9,291.6 L636.5,288.4 L637.4,285.5Z" fill="#fed976"/>
<path d="M648.2,297.8 L651.1,298.7 L651.5,301.5 L650.1,303.9 L649.2,301.5 L647.8,299.6Z" fill="#fed976"/>
<path d="M642.6,300.1 L644.9,301.1 L647.3,302.9 L646.8,306.2 L644.9,306.7 L644.5,303.9 L643.1,302.5Z" fill="#fed976"/>
<path d="M643.5,311.4 L645.9,309.1 L648.2,308.6 L650.6,306.2 L652.5,305.8 L653.9,309.5 L653.4,313.3 L651.5,316.1 L649.2,314.7 L648.2,311.4 L645.9,310.9 L644.0,312.4Z" fill="#fed976"/>
<path d="M632.2,308.6 L636.5,302.5 L637.7,301.5 L637.4,303.4 L633.6,308.1Z" fill="#fed976"/>
<path d="M734.4,383.4 L735.6,382.8 L740.4,388.6 L739.4,389.3Z" fill="#ffffb2"/>
<path d="M766.2,377.2 L767.8,376.0 L769.2,377.0 L768.0,378.6 L766.6,378.5Z" fill="#ffffb2"/>
<path d="M769.7,374.2 L773.6,372.7 L773.9,373.5 L770.2,375.0Z" fill="#ffffb2"/>
<path d="M687.9,337.4 L687.4,354.7" fill="none" stroke="#7a5a2a" stroke-width="0.6"/>
</g>
</g>
<g id="legend">
<rect x="124.5" y="537.2" width="47" height="11" fill="url(#hatch)" stroke="#c4c4c4" stroke-width="0.8"/>
<line x1="148" y1="534" x2="148" y2="537" stroke="#c4c4c4" stroke-width="1"/>
<text x="148" y="530.4" text-anchor="middle">No data</text>
<rect x="191.40" y="537.2" width="76.40" height="11" fill="#ffffb2" stroke="#c8c8c8" stroke-width="0.5"/>
<rect x="267.80" y="537.2" width="76.40" height="11" fill="#fed976" stroke="#c8c8c8" stroke-width="0.5"/>
<rect x="344.20" y="537.2" width="76.40" height="11" fill="#feb24c" stroke="#c8c8c8" stroke-width="0.5"/>
<rect x="420.60" y="537.2" width="76.40" height="11" fill="#fd8d3c" stroke="#c8c8c8" stroke-width="0.5"/>
<rect x="497.00" y="537.2" width="76.40" height="11" fill="#fc4e2a" stroke="#c8c8c8" stroke-width="0.5"/>
<rect x="573.40" y="537.2" width="76.40" height="11" fill="#e31a1c" stroke="#c8c8c8" stroke-width="0.5"/>
<rect x="649.80" y="537.2" width="76.40" height="11" fill="#b10026" stroke="#c8c8c8" stroke-width="0.5"/>
<line x1="191.40" y1="534.3" x2="191.40" y2="548.2" stroke="#8a8a8a" stroke-opacity="0.55" stroke-width="1"/>
<text x="191.40" y="530.4" text-anchor="middle">0</text>
<line x1="267.80" y1="534.3" x2="267.80" y2="548.2" stroke="#8a8a8a" stroke-opacity="0.55" stroke-width="1"/>
<text x="267.80" y="530.4" text-anchor="middle">1 million</text>
<line x1="344.20" y1="534.3" x2="344.20" y2="548.2" stroke="#8a8a8a" stroke-opacity="0.55" stroke-width="1"/>
<text x="344.20" y="530.4" text-anchor="middle">3 million</text>
<line x1="420.60" y1="534.3" x2="420.60" y2="548.2" stroke="#8a8a8a" stroke-opacity="0.55" stroke-width="1"/>
<text x="420.60" y="530.4" text-anchor="middle">10 million</text>
<line x1="497.00" y1="534.3" x2="497.00" y2="548.2" stroke="#8a8a8a" stroke-opacity="0.55" stroke-width="1"/>
<text x="497.00" y="530.4" text-anchor="middle">30 million</text>
<line x1="573.40" y1="534.3" x2="573.40" y2="548.2" stroke="#8a8a8a" stroke-opacity="0.55" stroke-width="1"/>
<text x="573.40" y="530.4" text-anchor="middle">100 million</text>
<line x1="649.80" y1="534.3" x2="649.80" y2="548.2" stroke="#8a8a8a" stroke-opacity="0.55" stroke-width="1"/>
<text x="649.80" y="530.4" text-anchor="middle">300 million</text>
<line x1="726.20" y1="534.3" x2="726.20" y2="548.2" stroke="#8a8a8a" stroke-opacity="0.55" stroke-width="1"/>
<text x="726.20" y="530.4" text-anchor="middle">1 billion</text>

</g>
</svg>
<div id="src"><b>Data source:</b> World Health Organization (2024)</div>
<div id="lic">OurWorldinData.org/neglected-tropical-diseases | CC BY</div>
</body></html>
